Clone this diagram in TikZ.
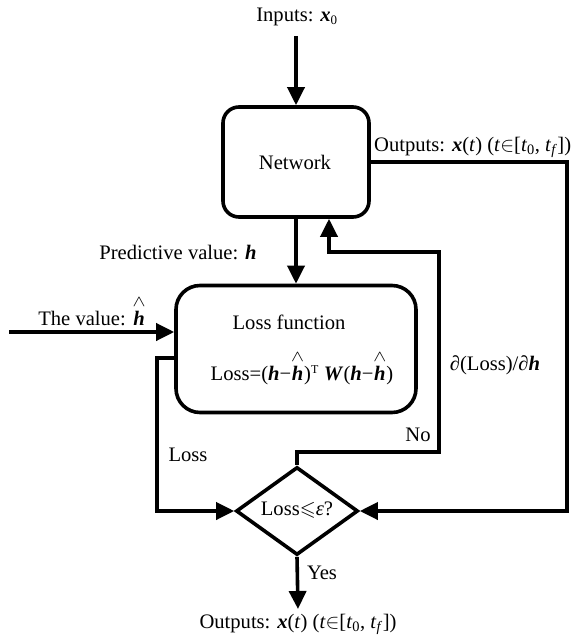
\documentclass[tikz,border=0pt]{standalone}
\usepackage{amsmath,amssymb,graphicx}
\usepackage{fontspec}
\setmainfont{Liberation Serif}
\usetikzlibrary{arrows.meta,shapes.geometric,calc}
\newcommand\bi[1]{\textbf{\textit{#1}}}
\newcommand\hh{\ensuremath{\overset{\raisebox{1pt}{\scalebox{1.35}[1.1]{$\scriptstyle\wedge$}}}{\mbox{\bi{h}}}}}
\newcommand\tr{\ensuremath{\in}}
\begin{document}
\begin{tikzpicture}[x=1pt,y=-1pt,
  every node/.style={font=\fontsize{20.6}{24}\selectfont},
  line/.style={line width=3.6pt},
  arr/.style={line width=3.6pt,-{Triangle[length=18pt,width=17pt]}},
  boxA/.style={draw,line width=3.6pt,rounded corners=16pt,minimum width=146pt,minimum height=110pt,inner sep=0pt},
  boxB/.style={draw,line width=3.6pt,rounded corners=24pt,minimum width=240pt,minimum height=127pt,inner sep=0pt},
  dia/.style={draw,diamond,aspect=1.4,line width=3.6pt,minimum width=122pt,minimum height=88pt,inner sep=0pt},
  lbl/.style={inner sep=0pt}]
\useasboundingbox (0,0) rectangle (570,639);
\node[lbl] (in) at (297,17) {Inputs: \bi{x}\textsubscript{\fontsize{13}{14}\selectfont 0}};
\node[boxA] (net) at (296,162) {};
\node[lbl] (nett) at (295,162) {Network};
\node[boxB] (loss) at (296,349) {};
\node[lbl] (lf) at (289,322) {Loss function};
\node[lbl] (lfx) at (302,368) {Loss=(\bi{h}−\hh)\textsuperscript{\fontsize{12}{12}\selectfont T} \bi{W}(\bi{h}−\hh)};
\node[dia] (dec) at (297,511) {};
\node[lbl] (dect) at (297,510) {Loss$\leqslant$\textit{ε}?};
\node[lbl] (out) at (298,624) {Outputs: \bi{x}(\textit{t}) (\textit{t}\tr[\textit{t}\textsubscript{0}, \textit{t}\textsubscript{\textit{f}}])};
\node[lbl,anchor=west] (outr) at (374,147) {Outputs: \bi{x}(\textit{t}) (\textit{t}\tr[\textit{t}\textsubscript{0}, \textit{t}\textsubscript{\textit{f}}])};
\node[lbl] (pv) at (178,252) {Predictive value: \bi{h}};
\node[lbl] (tv) at (92,311) {The value: \hh};
\node[lbl] (lossl) at (188,455) {Loss};
\node[lbl] (no) at (418,435) {No};
\node[lbl] (yes) at (322,573) {Yes};
\node[lbl] (dl) at (495,365) {∂(Loss)/∂\bi{h}};
\coordinate (inA) at (296,36);
\coordinate (vin) at (9,332);
\coordinate (oc) at (567,162);
\coordinate (fb1) at (439,452);
\coordinate (fb2) at (439,252);
\coordinate (fbx) at (329,252);
\coordinate (lw) at (157,358);
\coordinate (outA) at (298,609);
\draw[arr] (inA) -- (net.north);
\draw[arr] (net.south) -- (loss.north);
\draw[arr] (vin) -- (vin -| loss.west);
\draw[arr] (lw -| loss.west) -- (lw) |- (dec.west);
\draw[arr] (dec.north) |- (fb1) -- (fb2) -- (fbx) -- (fbx |- net.south);
\draw[arr] (net.east) -- (oc) |- (dec.east);
\draw[arr] (dec.south) -- (outA);
\end{tikzpicture}
\end{document}
